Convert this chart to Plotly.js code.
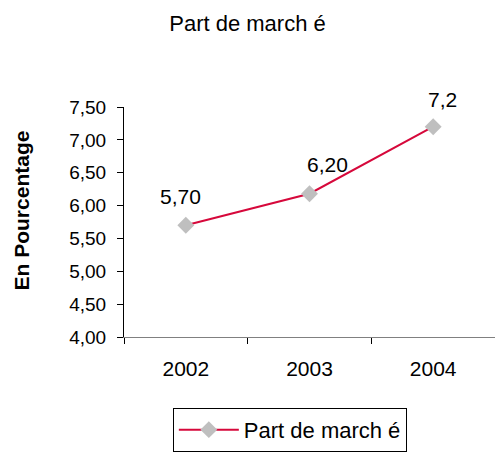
<!DOCTYPE html>
<html>
<head>
<meta charset="utf-8">
<script src="https://cdn.plot.ly/plotly-3.0.1.min.js"></script>
<style>html,body{margin:0;padding:0;background:#fff;}#chart{width:495px;height:452px;}</style>
</head>
<body>
<div id="chart"></div>
<script>
var years = ["2002", "2003", "2004"];
var shares = [5.70, 6.18, 7.20];
var labels = ["5,70", "6,20", "7,2"];
var seriesName = "Part de march é";
var chartTitle = "Part de march é";
var yTitle = "En Pourcentage";
var yTicks = [4.0, 4.5, 5.0, 5.5, 6.0, 6.5, 7.0, 7.5];

var font = "Liberation Sans, Arial, sans-serif";
var labelShiftX = [-5, 18, 9];
var labelShiftY = [29, 29, 27];

var trace = {
  x: years, y: shares, type: "scatter", mode: "lines+markers", name: seriesName,
  line: {color: "#d6083b", width: 2},
  marker: {symbol: "diamond", color: "#bfbfbf", size: 13}
};

var annotations = years.map(function (yr, i) {
  return {x: i, y: shares[i], xref: "x", yref: "y", text: labels[i], showarrow: false,
    xanchor: "center", yanchor: "middle",
    xshift: labelShiftX[i], yshift: labelShiftY[i], font: {family: font, size: 21, color: "#000"}};
});
annotations.push({xref: "paper", yref: "paper", x: -0.275, y: 0.55, xanchor: "center", yanchor: "middle",
  text: "<b>" + yTitle + "</b>", textangle: -90, showarrow: false, font: {family: font, size: 21, color: "#000"}});

var layout = {
  width: 495, height: 452,
  margin: {l: 124, r: 0, t: 107, b: 111},
  paper_bgcolor: "#fff", plot_bgcolor: "#fff",
  separators: ", ",
  font: {family: font, size: 19, color: "#000"},
  title: {text: chartTitle, x: 0.5, xref: "container", xanchor: "center", y: 1 - 23/452, yref: "container", yanchor: "middle", font: {family: font, size: 22, color: "#000"}},
  showlegend: true,
  legend: {orientation: "h", x: 0.447, xanchor: "center", y: -0.308, yanchor: "top", itemwidth: 60, bordercolor: "#000", borderwidth: 1, font: {family: font, size: 22, color: "#000"}, bgcolor: "#fff"},
  xaxis: {type: "category", range: [-0.5, 2.5], tickson: "boundaries", ticks: "outside", ticklen: 6, tickcolor: "#000",
    showline: true, linecolor: "#808080", linewidth: 1, showgrid: false, zeroline: false, ticklabelstandoff: 13,
    tickfont: {family: font, size: 21, color: "#000"}},
  yaxis: {range: [4, 7.5], tickvals: yTicks, tickformat: ".2f", ticks: "outside", ticklen: 6, tickcolor: "#000",
    showline: true, linecolor: "#000", linewidth: 1, showgrid: false, zeroline: false, ticklabelstandoff: 7,
    tickfont: {family: font, size: 19, color: "#000"}},
  annotations: annotations
};

Plotly.newPlot("chart", [trace], layout, {displayModeBar: false, staticPlot: true});
</script>
</body>
</html>
